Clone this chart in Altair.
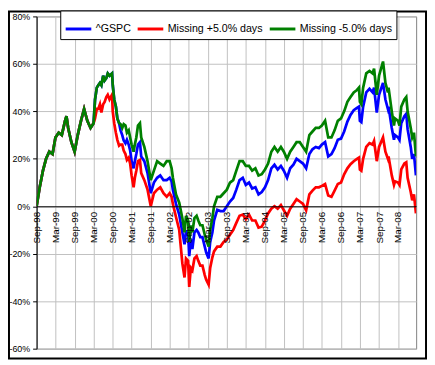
import altair as alt
import pandas as pd

# ---------------- data ----------------
dates = [
    # 1998
    "1998-09-01", "1998-10-01", "1998-11-01", "1998-12-01",
    # 1999
    "1999-01-01", "1999-02-01", "1999-03-01", "1999-04-01", "1999-05-01", "1999-06-01",
    "1999-06-15", "1999-07-01", "1999-08-01", "1999-09-01", "1999-10-01", "1999-11-01",
    "1999-12-01",
    # 2000
    "2000-01-01", "2000-02-01", "2000-03-01", "2000-03-15", "2000-04-01", "2000-04-15",
    "2000-05-01", "2000-05-15", "2000-06-01", "2000-06-15", "2000-07-01", "2000-07-15",
    "2000-08-01", "2000-08-25", "2000-09-01", "2000-09-15", "2000-10-01", "2000-10-15",
    "2000-11-01", "2000-11-15", "2000-12-01", "2000-12-15",
    # 2001
    "2001-01-01", "2001-01-15", "2001-02-01", "2001-02-15", "2001-03-01", "2001-03-20",
    "2001-04-01", "2001-04-15", "2001-05-01", "2001-05-20", "2001-06-01", "2001-07-01",
    "2001-08-01", "2001-09-01", "2001-10-01", "2001-11-01", "2001-12-01",
    # 2002
    "2002-01-01", "2002-02-01", "2002-03-01", "2002-03-20", "2002-04-01", "2002-05-01",
    "2002-06-01", "2002-07-01", "2002-07-22", "2002-08-05", "2002-08-25", "2002-09-05",
    "2002-09-20", "2002-10-05", "2002-10-25", "2002-11-15", "2002-12-01", "2002-12-20",
    # 2003
    "2003-01-10", "2003-02-01", "2003-02-15", "2003-03-10", "2003-03-25", "2003-04-15",
    "2003-05-01", "2003-06-01", "2003-07-01", "2003-08-01", "2003-09-01", "2003-10-01",
    "2003-11-01", "2003-12-01",
    # 2004
    "2004-01-01", "2004-02-01", "2004-03-01", "2004-04-01", "2004-05-01", "2004-06-01",
    "2004-07-01", "2004-08-01", "2004-09-01", "2004-10-01", "2004-11-01", "2004-12-01",
    # 2005
    "2005-01-01", "2005-02-01", "2005-03-01", "2005-04-01", "2005-05-01", "2005-06-01",
    "2005-07-01", "2005-08-01", "2005-09-01", "2005-10-01", "2005-11-01", "2005-12-01",
    # 2006
    "2006-01-01", "2006-02-01", "2006-03-01", "2006-04-01", "2006-05-01", "2006-06-01",
    "2006-07-01", "2006-08-01", "2006-09-01", "2006-10-01", "2006-11-01", "2006-12-01",
    # 2007
    "2007-01-01", "2007-02-01", "2007-02-20", "2007-03-01", "2007-03-15", "2007-04-01",
    "2007-05-01", "2007-06-01", "2007-07-01", "2007-07-15", "2007-08-10", "2007-09-01",
    "2007-10-09", "2007-11-01", "2007-11-25", "2007-12-01",
    # 2008
    "2008-01-01", "2008-01-22", "2008-02-01", "2008-03-01", "2008-03-15", "2008-04-01",
    "2008-05-01", "2008-05-19", "2008-06-01", "2008-07-01", "2008-07-15", "2008-08-01",
    "2008-08-20",
]

# cumulative return, % (the three series coincide until early 2000)
gspc = [
    0, 8, 15, 20,
    23, 22, 29, 31, 30, 36, 38, 33, 27, 23, 30, 36, 41,
    36, 33, 35, 45, 50, 51, 52, 51, 55, 53, 54, 56, 55, 56, 51, 45, 42, 37, 35, 32, 30, 27.7,
    26.5, 28, 26, 23.5, 19, 16, 19, 22, 26, 27, 21, 19, 14, 5.5, 10, 12, 13,
    11, 11, 12, 10.5, 7, 1, -3.5, -11, -16, -10.5, -11, -21, -14, -18, -11, -10, -11, -13,
    -13, -17, -19.5, -22, -15, -11, -6, -1.5, -2, -2, 0, 2, 3.5, 7,
    11, 12, 9, 10, 7.5, 8, 5, 6, 8, 11, 16, 17.5,
    15.5, 17, 15, 12, 16, 17.5, 20, 19, 18, 16, 22, 24,
    25, 24.5, 26, 27, 21, 22, 24.5, 28, 28.5, 31.5, 35.7, 38.5,
    40.5, 41.5, 42, 36, 35.5, 42, 48, 49.5, 48, 50, 39.5, 47, 52, 45, 41, 42,
    33, 28, 30, 29, 28, 35, 38, 39, 32.5, 25, 20, 22, 13,
]
plus5 = [
    0, 8, 15, 20,
    23, 22, 29, 31, 30, 36, 38, 33, 27, 23, 30, 36, 41,
    36, 33, 35, 37, 41, 41, 43, 39.5, 43, 44, 46, 47, 45, 47, 40, 35, 31, 28, 25.5, 26, 26, 23.5,
    22, 19.5, 20.5, 18, 13, 8, 12, 15, 19, 19.5, 14, 11, 7, 0, 5.5, 7, 8,
    5.5, 4, 5.5, 4, 1, -4.5, -10, -24, -30, -22, -23, -34, -26, -27, -22, -21, -23, -25,
    -25, -29, -31, -33, -26, -21.5, -19, -17, -17, -15, -14, -12, -10, -7,
    -4, -3.5, -5.5, -3.5, -6, -6, -9, -8.6, -6, -3, -1, 0,
    -1, 0.5, -1.7, -4, -1, 1, 3, 2, 1, -1.7, 5, 6.6,
    8, 8, 8.6, 9.4, 4.5, 4, 6.6, 9.4, 10, 13.5, 16, 17.7,
    19, 20, 20.5, 15.5, 15, 20, 25, 26.6, 26, 27.5, 19, 25, 29, 23, 20, 21,
    13, 9, 10.5, 10, 9, 15.5, 18, 18.5, 12, 6, 2.5, 5, -3,
]
minus5 = [
    0, 8, 15, 20,
    23, 22, 29, 31, 30, 36, 38, 33, 27, 23, 30, 36, 41,
    36, 33, 35, 45, 50, 51, 52, 51, 55, 53, 54, 56, 55, 56, 51, 45, 42, 37, 35, 34.6, 33, 34.6,
    34, 31, 32, 29, 26, 23, 26, 29, 34, 35, 29, 25, 19, 11, 15, 19, 18,
    17, 19, 19, 16, 12, 5, 1.5, -5, -11, -4, -6, -15, -8, -11, -5, -4, -6, -8,
    -8, -12, -14, -17, -10, -5, 0, 4, 4, 5.5, 7, 10, 11, 15,
    19, 19, 17, 17, 15, 16, 13, 13.5, 15.5, 18, 23, 25,
    23, 25, 23, 20, 23, 25, 27, 27, 25, 23, 30, 31.5,
    33, 33, 34, 36, 29, 29, 32, 36, 37, 40, 44, 46,
    48, 49, 50, 44, 43, 50, 56, 57, 56, 58, 47, 55, 61, 52, 48, 50,
    40, 34, 37, 36, 34, 42, 45, 46, 40, 33, 29, 31, 21,
]
assert len(dates) == len(gspc) == len(plus5) == len(minus5)

series_names = ["^GSPC", "Missing +5.0% days", "Missing -5.0% days"]
series_colors = ["#0000FF", "#FF0000", "#008000"]

# x tick marks every six months (year, month)
tick_months = [
    (1998, 9), (1999, 3), (1999, 9), (2000, 3), (2000, 9), (2001, 3), (2001, 9),
    (2002, 3), (2002, 9), (2003, 3), (2003, 9), (2004, 3), (2004, 9), (2005, 3),
    (2005, 9), (2006, 3), (2006, 9), (2007, 3), (2007, 9), (2008, 3),
]
y_ticks = [-60, -40, -20, 0, 20, 40, 60, 80]

# ---------------- chart ----------------
rows = []
for name, vals in zip(series_names, [gspc, plus5, minus5]):
    for d, v in zip(dates, vals):
        rows.append({"date": d, "value": v, "series": name})
df = pd.DataFrame(rows)

W, H = 385, 337
Y_MIN, Y_MAX = -60, 80
x_axis_offset = -H * (0 - Y_MIN) / (Y_MAX - Y_MIN)  # date axis sits on the 0% line

FONT = "Liberation Sans"
GRID = "#c0c0c0"

x_scale = alt.Scale(
    type="utc",
    domain=[
        alt.DateTime(year=1998, month=9, date=1, utc=True),
        alt.DateTime(year=2008, month=8, date=22, utc=True),
    ],
)
x_values = [alt.DateTime(year=y, month=m, date=1, utc=True) for y, m in tick_months]

# vertical grid lines only, drawn behind the data
grid_layer = alt.Chart(df).mark_point(opacity=0).encode(
    x=alt.X(
        "date:T",
        scale=x_scale,
        axis=alt.Axis(
            title=None, orient="top", values=x_values, grid=True, gridColor=GRID,
            gridWidth=1, labels=False, ticks=False, domain=False, zindex=0,
        ),
    ),
)

lines = alt.Chart(df).mark_line(strokeWidth=2.75, clip=True).encode(
    x=alt.X(
        "date:T",
        scale=x_scale,
        axis=alt.Axis(
            title=None,
            orient="bottom",
            values=x_values,
            format="%b-%y",
            labelAngle=-90,
            labelFlush=False,
            labelOverlap=False,
            labelPadding=5,
            labelFontSize=10,
            labelFont=FONT,
            labelColor="black",
            offset=x_axis_offset,
            ticks=False,
            domainColor="black",
            domainWidth=1,
            grid=False,
            zindex=1,
        ),
    ),
    y=alt.Y(
        "value:Q",
        scale=alt.Scale(domain=[Y_MIN, Y_MAX], nice=False, zero=False),
        axis=alt.Axis(
            title=None,
            values=y_ticks,
            labelExpr="datum.value + '%'",
            labelFontSize=9,
            labelFont=FONT,
            labelColor="black",
            labelPadding=3,
            tickSize=4,
            tickColor="black",
            domainColor="black",
            grid=True,
            gridColor=GRID,
            gridWidth=1,
        ),
    ),
    color=alt.Color(
        "series:N",
        sort=series_names,
        scale=alt.Scale(domain=series_names, range=series_colors),
        legend=alt.Legend(
            title=None,
            orient="none",
            legendX=24,
            legendY=-6,
            direction="horizontal",
            strokeColor="black",
            fillColor="white",
            padding=4,
            symbolType="stroke",
            symbolSize=676,
            symbolStrokeWidth=3,
            labelFontSize=10.8,
            labelFont=FONT,
            labelColor="black",
            labelOffset=3,
            columnPadding=0,
        ),
    ),
)

frame = alt.Chart(alt.Data(values=[{"k": 1}])).mark_rect(
    fill="transparent", stroke="black", strokeWidth=2
).encode(
    x=alt.value(-28), x2=alt.value(W + 10), y=alt.value(-5), y2=alt.value(H + 10)
)

chart = alt.layer(frame, grid_layer, lines).resolve_axis(x="independent").properties(
    width=W,
    height=H,
    autosize=alt.AutoSizeParams(type="none"),
    padding={"left": 29, "top": 6, "right": 11, "bottom": 12},
    background="white",
).configure_view(
    stroke="#808080", strokeWidth=1
)

chart.save("out.html", embed_options={"renderer": "svg", "actions": False})
